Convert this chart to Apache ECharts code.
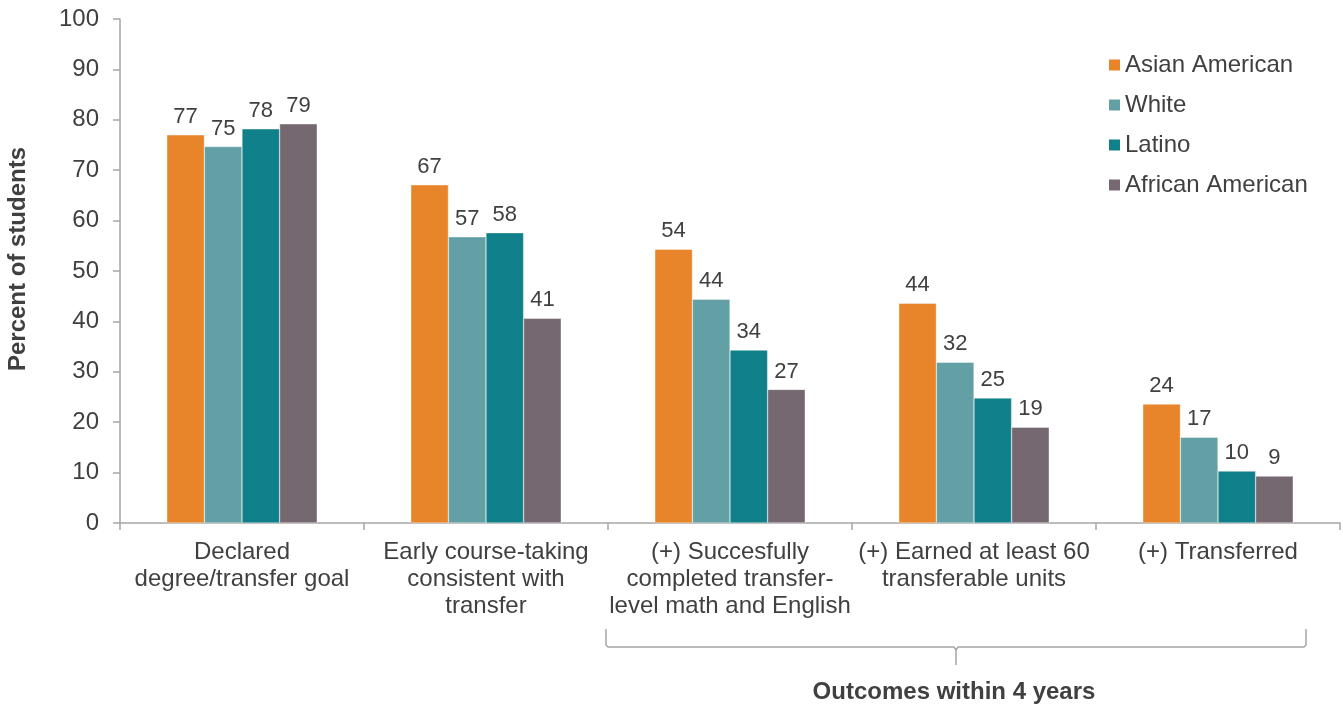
<!DOCTYPE html>
<html>
<head>
<meta charset="utf-8">
<script src="https://cdn.jsdelivr.net/npm/echarts@6/dist/echarts.min.js"></script>
<style>
html,body{margin:0;padding:0;background:#fff;}
#chart{width:1343px;height:709px;}
</style>
</head>
<body>
<div id="chart"></div>
<script>
const categories = [
  "Declared\ndegree/transfer goal",
  "Early course-taking\nconsistent with\ntransfer",
  "(+) Succesfully\ncompleted transfer-\nlevel math and English",
  "(+) Earned at least 60\ntransferable units",
  "(+) Transferred"
];
const seriesNames = ["Asian American", "White", "Latino", "African American"];
const asianAmerican = [77.0, 67.1, 54.3, 43.6, 23.6];
const white = [74.7, 56.8, 44.4, 31.9, 17.0];
const latino = [78.2, 57.6, 34.3, 24.8, 10.3];
const africanAmerican = [79.2, 40.6, 26.5, 19.0, 9.3];
const yTicks = [0, 10, 20, 30, 40, 50, 60, 70, 80, 90, 100];
const colors = ["#E8842A", "#62A0A6", "#10808A", "#766870"];
const bracketLabel = "Outcomes within 4 years";
const yName = "Percent of students";

const textColor = "#404040";
const axisColor = "#A6A6A6";
const font = "Liberation Sans, Arial, sans-serif";

const allSeries = [asianAmerican, white, latino, africanAmerican].map((d, i) => ({
  name: seriesNames[i],
  type: "bar",
  data: d,
  barWidth: 37.6,
  barGap: "0%",
  itemStyle: { color: colors[i], borderColor: "#ffffff", borderWidth: 0.4 },
  label: {
    show: true,
    position: "top",
    distance: 7,
    color: textColor,
    fontSize: 22,
    fontFamily: font,
    formatter: p => Math.round(p.value)
  }
}));

const chart = echarts.init(document.getElementById("chart"), null, { renderer: "canvas" });
chart.setOption({
  animation: false,
  backgroundColor: "#ffffff",
  textStyle: { fontFamily: font, color: textColor },
  grid: { left: 120, right: 3, top: 19, bottom: 186, containLabel: false },
  legend: {
    orient: "vertical",
    left: 1107,
    top: 53,
    padding: 0,
    itemWidth: 13,
    itemHeight: 13,
    itemGap: 16,
    icon: "rect",
    data: seriesNames,
    textStyle: { fontSize: 24, color: textColor, fontFamily: font, padding: [0, 0, 0, -1] }
  },
  xAxis: {
    type: "category",
    data: categories,
    boundaryGap: true,
    axisLine: { show: true, lineStyle: { color: axisColor, width: 1.5 } },
    axisTick: { show: true, length: 7, alignWithLabel: false, lineStyle: { color: axisColor, width: 1.5 } },
    axisLabel: {
      interval: 0,
      margin: 16,
      fontSize: 24,
      lineHeight: 27,
      color: textColor,
      fontFamily: font,
      align: "center"
    }
  },
  yAxis: {
    type: "value",
    min: yTicks[0],
    max: yTicks[yTicks.length - 1],
    interval: 10,
    splitLine: { show: false },
    axisLine: { show: true, lineStyle: { color: axisColor, width: 1.5 } },
    axisTick: { show: true, length: 7, lineStyle: { color: axisColor, width: 1.5 } },
    axisLabel: { margin: 21, fontSize: 24, color: textColor, fontFamily: font }
  },
  series: allSeries,
  graphic: [
    {
      type: "text",
      x: 18,
      y: 259,
      rotation: Math.PI / 2,
      style: {
        text: yName,
        fontSize: 24,
        fontWeight: "bold",
        fontFamily: font,
        fill: textColor,
        align: "center",
        verticalAlign: "middle"
      }
    },
    {
      type: "polyline",
      shape: { points: [[606, 629], [606, 645], [608, 647], [954, 647], [956, 650], [956, 665]] },
      style: { stroke: axisColor, lineWidth: 1.5, fill: null }
    },
    {
      type: "polyline",
      shape: { points: [[956, 650], [958, 647], [1304, 647], [1306, 645], [1306, 629]] },
      style: { stroke: axisColor, lineWidth: 1.5, fill: null }
    },
    {
      type: "text",
      x: 954,
      y: 692,
      style: {
        text: bracketLabel,
        fontSize: 24,
        fontWeight: "bold",
        fontFamily: font,
        fill: textColor,
        align: "center",
        verticalAlign: "middle"
      }
    }
  ]
});
</script>
</body>
</html>
